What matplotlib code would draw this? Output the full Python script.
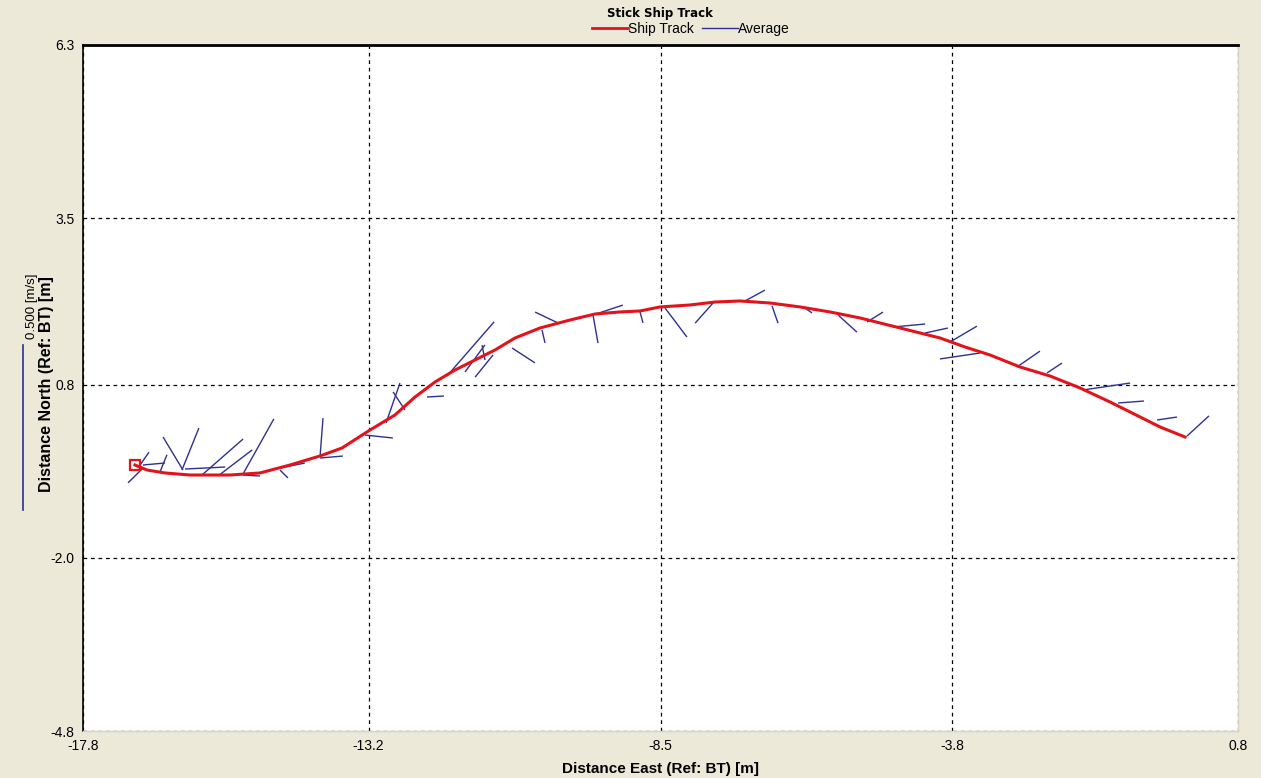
import matplotlib
matplotlib.use("Agg")
import matplotlib.pyplot as plt
from matplotlib.collections import LineCollection
from matplotlib.lines import Line2D
import numpy as np

# Ship track (bottom-track referenced), metres
track_east = [-16.963, -16.769, -16.479, -16.077, -15.433, -14.950, -14.466, -13.983,
              -13.629, -13.178, -12.776, -12.453, -12.131, -11.809, -11.487, -11.165,
              -10.843, -10.440, -9.957, -9.555, -9.152, -8.830, -8.508, -8.025,
              -7.622, -7.220, -6.737, -6.253, -5.770, -5.287, -4.643, -3.999,
              -3.596, -3.194, -2.711, -2.228, -1.744, -1.261, -0.778, -0.456, -0.053]
track_north = [-0.496, -0.577, -0.625, -0.658, -0.658, -0.625, -0.496, -0.350,
               -0.221, 0.070, 0.313, 0.604, 0.847, 1.041, 1.203, 1.365,
               1.559, 1.721, 1.850, 1.947, 1.980, 1.996, 2.061, 2.093,
               2.141, 2.158, 2.125, 2.061, 1.980, 1.883, 1.721, 1.559,
               1.413, 1.284, 1.090, 0.944, 0.750, 0.523, 0.281, 0.119, -0.043]

# Depth-averaged velocity sticks: origin (m) and velocity components (m/s)
stick_east = [-16.834, -16.914, -16.834, -16.560, -16.190, -16.206, -16.157, -15.884,
              -15.626, -15.223, -15.223, -14.628, -14.628, -13.983, -13.983, -13.259,
              -12.920, -12.615, -12.260, -11.938, -11.648, -11.197, -11.326, -10.891,
              -10.408, -10.151, -9.587, -9.587, -8.830, -8.427, -7.654, -7.171,
              -6.704, -6.173, -5.641, -5.174, -4.756, -4.240, -3.838, -3.355,
              -2.759, -2.276, -1.696, -1.132, -0.504, -0.021]
stick_north = [-0.545, -0.545, -0.496, -0.609, -0.577, -0.577, -0.561, -0.658,
               -0.674, -0.642, -0.658, -0.577, -0.545, -0.383, -0.367, -0.011,
               0.184, 0.394, 0.604, 0.944, 1.009, 1.284, 1.203, 1.397,
               1.688, 1.802, 1.931, 1.931, 1.980, 2.044, 2.125, 2.141,
               2.077, 2.044, 1.931, 1.818, 1.737, 1.640, 1.494, 1.316,
               1.090, 0.993, 0.718, 0.507, 0.232, -0.027]
vel_east = [-0.045, 0.033, 0.066, 0.021, -0.060, 0.051, 0.121, 0.124,
            0.103, 0.093, 0.051, 0.024, 0.075, 0.069, 0.009, 0.084,
            0.042, -0.036, 0.051, 0.142, 0.060, -0.054, -0.009, 0.069,
            0.009, -0.069, 0.015, 0.090, 0.009, 0.066, -0.054, 0.066,
            0.018, 0.021, 0.057, 0.048, 0.097, 0.069, 0.081, -0.121,
            0.069, 0.045, 0.142, 0.078, 0.060, 0.066]
vel_north = [-0.045, 0.048, 0.006, 0.052, 0.100, 0.127, 0.006, 0.109,
             0.079, 0.167, -0.003, -0.024, 0.015, 0.006, 0.118, -0.009,
             0.121, 0.055, 0.003, 0.164, 0.082, -0.067, 0.045, -0.045,
             -0.039, 0.033, -0.085, 0.030, -0.033, -0.088, -0.061, 0.036,
             -0.052, -0.015, -0.052, 0.030, 0.009, 0.015, 0.048, -0.018,
             0.048, 0.030, 0.021, 0.006, 0.009, 0.061]

# Stick length scale: metres of plot per 1 m/s of velocity
stick_scale = 5.34
scale_ref = 0.5  # m/s shown by the reference bar

x_ticks = [-17.8, -13.2, -8.5, -3.8, 0.8]
y_ticks = [-4.8, -2.0, 0.8, 3.5, 6.3]

bg = "#ECE9D8"
red = "#E3131B"
blue = "#2E3192"

plt.rcParams["font.family"] = ["Liberation Sans", "DejaVu Sans"]

fig = plt.figure(figsize=(12.61, 7.78), dpi=100, facecolor=bg)
ax_left, ax_bottom, ax_w, ax_h = 0.0658, 0.0604, 0.9160, 0.8818
ax = fig.add_axes([ax_left, ax_bottom, ax_w, ax_h])
ax.set_facecolor("white")

ax.set_xlim(x_ticks[0], x_ticks[-1])
ax.set_ylim(y_ticks[0], y_ticks[-1])
ax.set_xticks(x_ticks)
ax.set_yticks(y_ticks)
ax.set_xticklabels([f"{v:.1f}" for v in x_ticks])
ax.set_yticklabels([f"{v:.1f}" for v in y_ticks])
ax.tick_params(length=0, labelsize=10, pad=6)
ax.grid(True, color="black", linestyle=(0, (3, 3)), linewidth=0.9)

for side in ("top", "left"):
    ax.spines[side].set_color("black")
ax.spines["top"].set_linewidth(2.0)
ax.spines["left"].set_linewidth(1.2)
for side in ("right", "bottom"):
    ax.spines[side].set_color("#D8D4C4")
    ax.spines[side].set_linewidth(1.0)

# velocity sticks
se = np.array(stick_east)
sn = np.array(stick_north)
ve = np.array(vel_east)
vn = np.array(vel_north)
segs = [[(x0, y0), (x0 + u * stick_scale, y0 + v * stick_scale)]
        for x0, y0, u, v in zip(se, sn, ve, vn)]
ax.add_collection(LineCollection(segs, colors=blue, linewidths=1.0, zorder=3))

# ship track
ax.plot(track_east, track_north, color=red, linewidth=2.2, zorder=4,
        solid_joinstyle="round")
ax.plot(track_east[0], track_north[0], marker="s", markersize=7,
        markerfacecolor="none", markeredgecolor=red, markeredgewidth=1.6, zorder=5)

ax.set_xlabel("Distance East (Ref: BT) [m]", fontsize=11, fontweight="bold")
ax.xaxis.set_label_coords(0.5, -0.045)
ax.set_ylabel("Distance North (Ref: BT) [m]", fontsize=11.5, fontweight="bold")
ax.yaxis.set_label_coords(-0.0255, 0.505)

fig.text(0.5235, 0.983, "Stick Ship Track", ha="center", va="center",
         fontsize=8.5, fontweight="bold", family=["DejaVu Sans"])

handles = [Line2D([], [], color=red, linewidth=2.0),
           Line2D([], [], color=blue, linewidth=1.0)]
fig.legend(handles, ["Ship Track", "Average"], loc="center",
           bbox_to_anchor=(0.548, 0.963), ncol=2, frameon=False,
           handlelength=2.6, handletextpad=0.0, columnspacing=0.6,
           prop={"family": ["Liberation Sans", "DejaVu Sans"], "size": 10})

# velocity reference bar
bar_len = scale_ref * stick_scale / (y_ticks[-1] - y_ticks[0]) * ax_h
bar_x = 23 / 1261
bar_bottom = 1 - 510 / 778
fig.add_artist(Line2D([bar_x, bar_x], [bar_bottom, bar_bottom + bar_len],
                      transform=fig.transFigure, color=blue, linewidth=1.2))
fig.text(32 / 1261, bar_bottom + bar_len + 0.008, f"{scale_ref:.3f} [m/s]",
         rotation=90, ha="center", va="bottom", fontsize=9.5)

fig.savefig("out.png", dpi=100, facecolor=bg)
